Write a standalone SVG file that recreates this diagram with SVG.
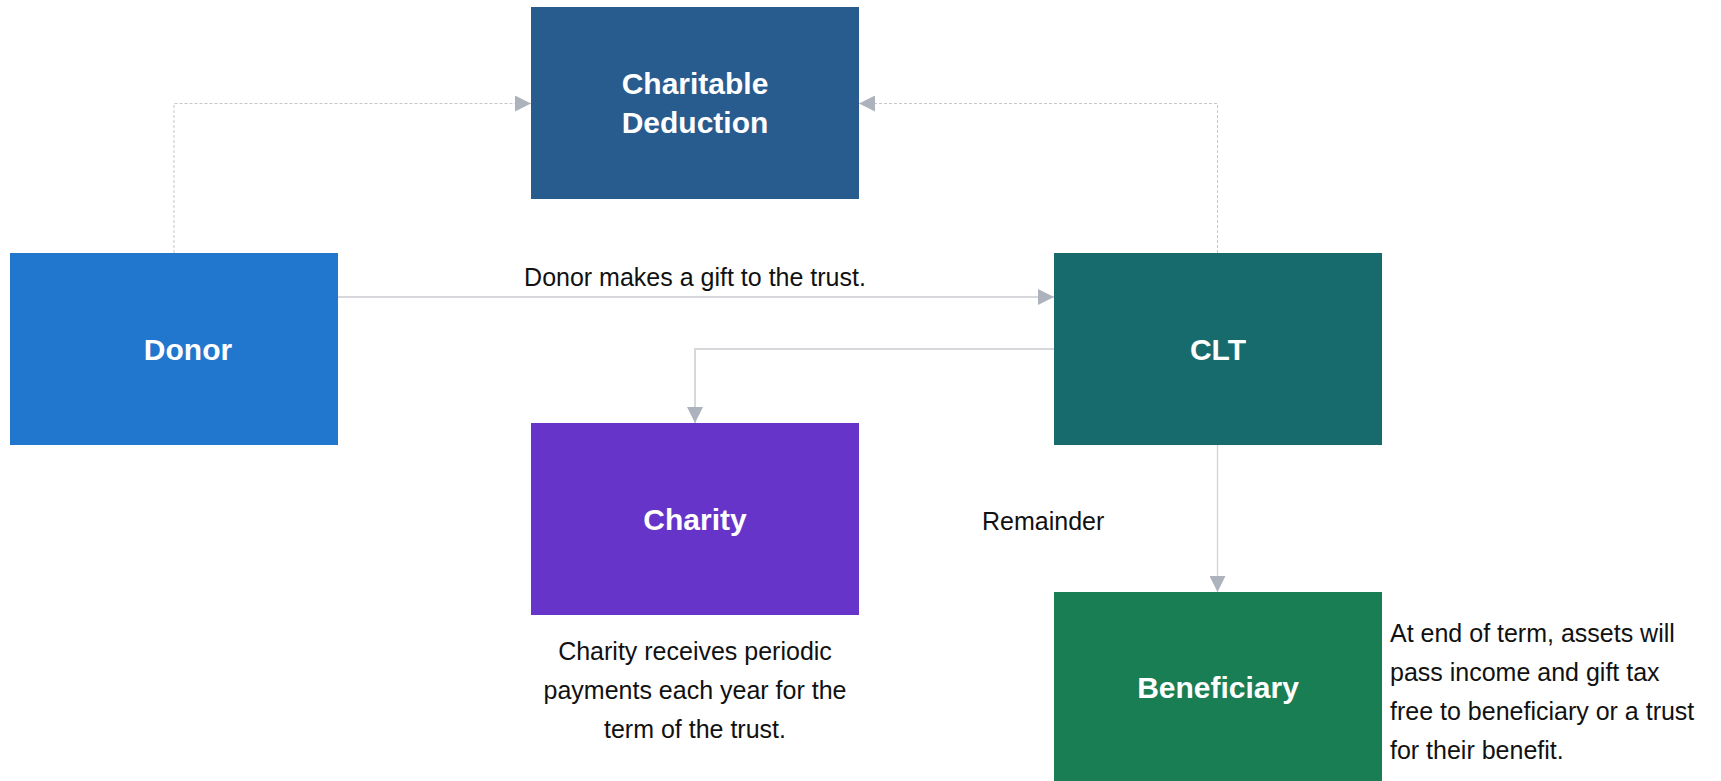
<svg xmlns="http://www.w3.org/2000/svg" width="1721" height="781" viewBox="0 0 1721 781">
<style>
.lbl{font-family:"Liberation Sans",Arial,sans-serif;font-weight:bold;font-size:30px;fill:#ffffff;text-anchor:middle}
.txt{font-family:"Liberation Sans",Arial,sans-serif;font-size:25px;fill:#111111}
.dash{fill:none;stroke:#c4c7cc;stroke-width:1;stroke-dasharray:3 2}
.solid{fill:none;stroke:#d6d8dc;stroke-width:2}
.thin{fill:none;stroke:#cfd2d6;stroke-width:1.3}
</style>
<defs>
<marker id="ah" viewBox="0 0 16 16" refX="16" refY="8" markerWidth="16" markerHeight="16" markerUnits="userSpaceOnUse" orient="auto">
<path d="M0,0 L16,8 L0,16 Z" fill="#adb3bd"/>
</marker>
</defs>
<rect width="1721" height="781" fill="#ffffff"/>
<g id="connectors">
<path class="dash" d="M174,253 V103.5 H531" marker-end="url(#ah)"/>
<path class="dash" d="M1217.5,253 V103.5 H859" marker-end="url(#ah)"/>
<path class="solid" d="M338,297 H1054" marker-end="url(#ah)"/>
<path class="solid" d="M1054,349 H695 V423" marker-end="url(#ah)"/>
<path class="thin" d="M1217.5,445 V592" marker-end="url(#ah)"/>
<text class="txt" x="695" y="286" text-anchor="middle">Donor makes a gift to the trust.</text>
<text class="txt" x="982" y="530">Remainder</text>
</g>
<g id="charitable-deduction">
<rect x="531" y="7" width="328" height="192" fill="#285c8f"/>
<text class="lbl" x="695" y="94">Charitable</text>
<text class="lbl" x="695" y="133">Deduction</text>
</g>
<g id="donor">
<rect x="10" y="253" width="328" height="192" fill="#2176cd"/>
<text class="lbl" x="188" y="360">Donor</text>
</g>
<g id="clt">
<rect x="1054" y="253" width="328" height="192" fill="#186b6d"/>
<text class="lbl" x="1218" y="360">CLT</text>
</g>
<g id="charity">
<rect x="531" y="423" width="328" height="192" fill="#6734ca"/>
<text class="lbl" x="695" y="530">Charity</text>
<text class="txt" x="695" y="660" text-anchor="middle">Charity receives periodic</text>
<text class="txt" x="695" y="699" text-anchor="middle">payments each year for the</text>
<text class="txt" x="695" y="738" text-anchor="middle">term of the trust.</text>
</g>
<g id="beneficiary">
<rect x="1054" y="592" width="328" height="192" fill="#1a7e55"/>
<text class="lbl" x="1218" y="698">Beneficiary</text>
<text class="txt" x="1390" y="642">At end of term, assets will</text>
<text class="txt" x="1390" y="681">pass income and gift tax</text>
<text class="txt" x="1390" y="720">free to beneficiary or a trust</text>
<text class="txt" x="1390" y="759">for their benefit.</text>
</g>
</svg>
